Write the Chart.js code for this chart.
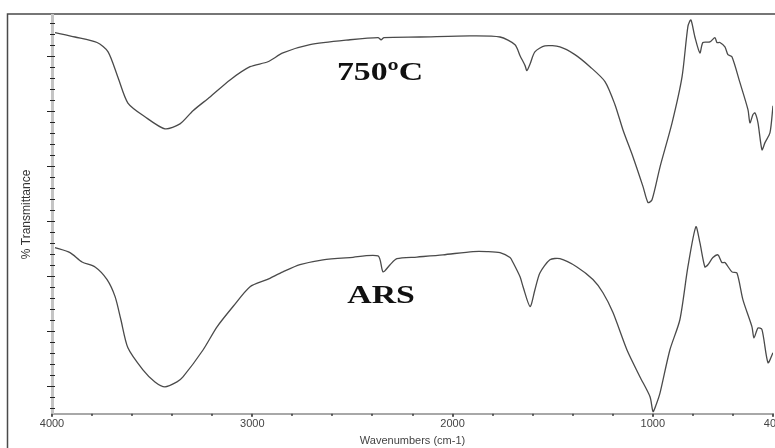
<!DOCTYPE html>
<html>
<head>
<meta charset="utf-8">
<script src="https://cdn.jsdelivr.net/npm/chart.js@4"></script>
<style>
  body { margin: 0; background: #fff; }
  canvas { display: block; }
</style>
</head>
<body>
<canvas id="ftirChart" width="775" height="448"></canvas>
<script>
// 750 C sample (upper trace)
const wn750 = [3985, 3885, 3775, 3720, 3670, 3621, 3536, 3436, 3361, 3296, 3211, 3111, 3011, 2922, 2847, 2712, 2512, 2372, 2357, 2342, 2163, 1913, 1763, 1688, 1663, 1638, 1629, 1613, 1589, 1539, 1464, 1389, 1314, 1239, 1189, 1149, 1099, 1049, 1024, 1004, 964, 904, 854, 825, 810, 790, 765, 750, 715, 690, 680, 665, 640, 625, 605, 565, 525, 515, 500, 490, 475, 455, 440, 415, 400];
const t750 = [69.3, 68.5, 67.5, 65.8, 61.1, 56.5, 54.0, 51.8, 52.7, 55.1, 57.6, 60.7, 63.1, 64.0, 65.6, 67.1, 68.0, 68.4, 68.0, 68.4, 68.5, 68.7, 68.5, 67.1, 65.1, 63.3, 62.4, 63.6, 65.8, 66.9, 66.7, 65.3, 63.1, 60.4, 56.2, 51.6, 46.7, 41.3, 38.4, 38.9, 44.9, 52.9, 61.3, 70.4, 71.6, 68.5, 65.6, 67.5, 67.6, 68.4, 67.5, 67.5, 66.7, 65.3, 64.9, 60.2, 55.3, 52.9, 54.4, 54.7, 52.9, 48.0, 49.3, 51.1, 56.0];

// ARS sample (lower trace)
const wnARS = [3985, 3910, 3850, 3785, 3725, 3685, 3656, 3621, 3546, 3486, 3436, 3376, 3346, 3246, 3176, 3096, 3011, 2927, 2847, 2762, 2647, 2512, 2372, 2347, 2312, 2278, 2178, 2048, 1898, 1828, 1763, 1713, 1698, 1663, 1648, 1613, 1589, 1564, 1514, 1464, 1379, 1299, 1249, 1199, 1129, 1064, 1014, 999, 984, 964, 915, 865, 825, 785, 765, 740, 725, 700, 675, 655, 640, 605, 580, 550, 505, 495, 475, 455, 425, 400];
const tARS = [30.2, 29.3, 27.6, 26.7, 24.4, 21.3, 17.1, 12.0, 8.0, 5.8, 4.9, 5.8, 6.7, 11.6, 15.8, 19.5, 23.1, 24.4, 25.8, 27.1, 28.0, 28.4, 28.7, 25.8, 27.1, 28.2, 28.5, 28.9, 29.5, 29.5, 29.3, 28.4, 27.5, 24.9, 23.1, 19.5, 22.5, 25.6, 28.0, 28.2, 26.7, 24.4, 22.0, 18.4, 11.6, 6.7, 3.1, 0.4, 1.6, 3.8, 11.6, 17.1, 26.7, 34.0, 31.1, 26.7, 27.1, 28.4, 28.9, 27.5, 27.5, 25.8, 25.6, 20.7, 15.8, 13.8, 15.6, 15.3, 9.3, 11.1];

const xTickValues = [4000, 3000, 2000, 1000, 400];
const xMinorTicks = [3800, 3600, 3400, 3200, 2800, 2600, 2400, 2200, 1800, 1600, 1400, 1200, 800, 600];
const yMajorTicks = [5, 15, 25, 35, 45, 55, 65];
const yMinorTicks = [1, 3, 7, 9, 11, 13, 17, 19, 21, 23, 27, 29, 31, 33, 37, 39, 41, 43, 47, 49, 51, 53, 57, 59, 61, 63, 67, 69, 71];

const sampleLabels = [
    { text: "750\u00baC", x: 2362, y: 61.9 },
    { text: "ARS", x: 2357, y: 21.3 }
];

function toPoints(xs, ys) {
    return xs.map((x, i) => ({ x: x, y: ys[i] }));
}

// outer frame, axis tick marks and sample names
const decorations = {
    id: "decorations",
    beforeDraw(chart) {
        const ctx = chart.ctx;
        ctx.save();
        ctx.fillStyle = "#fff";
        ctx.fillRect(0, 0, chart.width, chart.height);
        ctx.strokeStyle = "#4a4a4a";
        ctx.lineWidth = 1.5;
        ctx.beginPath();
        ctx.moveTo(7.5, chart.height);
        ctx.lineTo(7.5, 14);
        ctx.lineTo(chart.width, 14);
        ctx.stroke();
        ctx.restore();
    },
    afterDraw(chart) {
        const ctx = chart.ctx;
        const xs = chart.scales.x;
        const ys = chart.scales.y;
        const left = chart.chartArea.left;
        const bottom = chart.chartArea.bottom;
        ctx.save();
        ctx.strokeStyle = "#222";
        ctx.lineWidth = 1;
        yMinorTicks.forEach(v => {
            const py = Math.round(ys.getPixelForValue(v)) + 0.5;
            ctx.beginPath();
            ctx.moveTo(left - 2, py);
            ctx.lineTo(left + 3, py);
            ctx.stroke();
        });
        yMajorTicks.forEach(v => {
            const py = Math.round(ys.getPixelForValue(v)) + 0.5;
            ctx.beginPath();
            ctx.moveTo(left - 5, py);
            ctx.lineTo(left + 3, py);
            ctx.stroke();
        });
        ctx.fillStyle = "#555";
        xMinorTicks.forEach(v => {
            const px = Math.round(xs.getPixelForValue(v));
            ctx.fillRect(px - 1, bottom, 2, 2);
        });
        xTickValues.forEach(v => {
            const px = Math.round(xs.getPixelForValue(v));
            ctx.fillRect(px - 1, bottom, 2, 3);
        });

        ctx.fillStyle = "#111";
        ctx.font = "bold 26px 'Liberation Serif', 'Times New Roman', serif";
        ctx.textAlign = "center";
        ctx.textBaseline = "middle";
        sampleLabels.forEach(l => {
            ctx.save();
            ctx.translate(xs.getPixelForValue(l.x), ys.getPixelForValue(l.y));
            ctx.scale(1.3, 1);
            ctx.fillText(l.text, 0, 0);
            ctx.restore();
        });
        ctx.restore();
    }
};

const axisFont = { family: "'Liberation Sans', Arial, sans-serif", size: 11 };

new Chart(document.getElementById("ftirChart"), {
    type: "line",
    data: {
        datasets: [{
            label: "750\u00baC",
            data: toPoints(wn750, t750),
            borderColor: "#4a4a4a",
            borderWidth: 1.3,
            pointRadius: 0,
            tension: 0.25
        }, {
            label: "ARS",
            data: toPoints(wnARS, tARS),
            borderColor: "#4a4a4a",
            borderWidth: 1.3,
            pointRadius: 0,
            tension: 0.25
        }]
    },
    options: {
        responsive: false,
        animation: false,
        layout: { padding: { top: 15, right: 2, left: 0, bottom: 0 } },
        plugins: {
            legend: { display: false },
            tooltip: { enabled: false }
        },
        scales: {
            x: {
                type: "linear",
                reverse: true,
                min: 400,
                max: 4000,
                afterBuildTicks: scale => {
                    scale.ticks = xTickValues.map(v => ({ value: v }));
                },
                afterFit: scale => {
                    scale.paddingRight = 0;
                    scale.paddingLeft = 0;
                },
                grid: { display: false, drawTicks: false },
                border: { display: true, color: "#a8a8a8", width: 2 },
                ticks: {
                    color: "#444",
                    font: axisFont,
                    padding: 3.4,
                    maxRotation: 0,
                    autoSkip: false,
                    callback: v => String(v)
                },
                title: {
                    display: true,
                    text: "Wavenumbers (cm-1)",
                    color: "#444",
                    font: axisFont,
                    padding: { top: 1, bottom: 0 }
                }
            },
            y: {
                type: "linear",
                min: 0,
                max: 72.5,
                grid: { display: false, drawTicks: false },
                border: { display: true, color: "#c4c4c4", width: 3 },
                ticks: { display: false },
                title: {
                    display: true,
                    text: "% Transmittance",
                    color: "#333",
                    font: { family: "'Liberation Sans', Arial, sans-serif", size: 12 },
                    padding: { top: 19.8, bottom: 17.8 }
                }
            }
        }
    },
    plugins: [decorations]
});
</script>
</body>
</html>
